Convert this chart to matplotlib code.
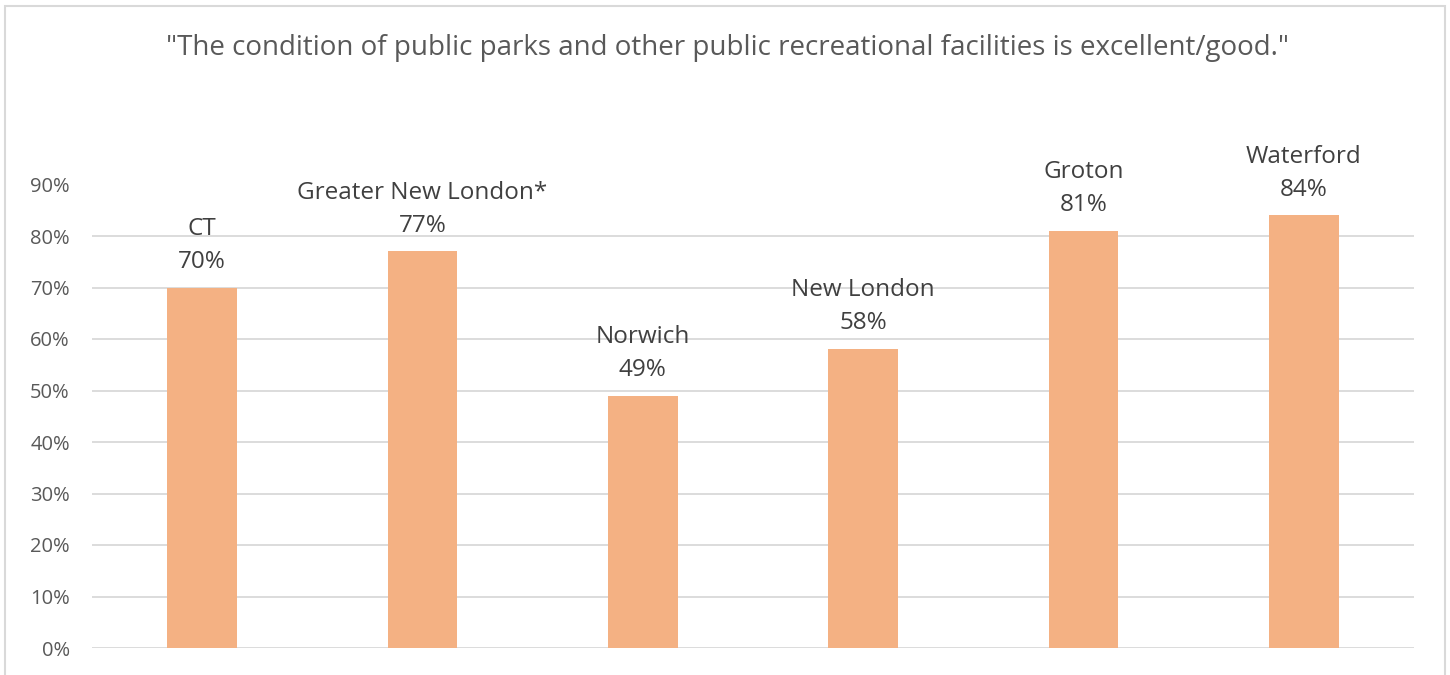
import matplotlib
matplotlib.use("Agg")
import matplotlib.pyplot as plt
from matplotlib.patches import Rectangle
from matplotlib.ticker import PercentFormatter, MultipleLocator

categories = ["CT", "Greater New London*", "Norwich", "New London", "Groton", "Waterford"]
values = [70, 77, 49, 58, 81, 84]
title = "\"The condition of public parks and other public recreational facilities is excellent/good.\""

W, H = 1450, 675
plt.rcParams["font.family"] = ["Open Sans", "DejaVu Sans"]
text_color = "#595959"
label_color = "#404040"
bar_color = "#F4B183"
grid_color = "#D9D9D9"

fig = plt.figure(figsize=(W / 100, H / 100), dpi=100)
fig.patch.set_facecolor("white")

# light frame around the chart area
fig.patches.append(Rectangle((5 / W, -0.05), 1440 / W, 1.05 - 6 / H,
                             transform=fig.transFigure, fill=False,
                             edgecolor=grid_color, linewidth=1.5))

ax = fig.add_axes([92 / W, 27 / H, (1414 - 92) / W, (648 - 184.5) / H])
x = range(len(categories))
ax.bar(x, values, width=0.315, color=bar_color, zorder=2)

ax.set_xlim(-0.5, len(categories) - 0.5)
ax.set_ylim(0, 90)
ax.yaxis.set_major_locator(MultipleLocator(10))
ax.yaxis.set_major_formatter(PercentFormatter(decimals=0))
ax.grid(axis="y", color=grid_color, linewidth=1.3, zorder=0)
ax.set_axisbelow(True)
for s in ax.spines.values():
    s.set_visible(False)
ax.set_xticks([])
ax.tick_params(axis="y", length=0, pad=16, labelsize=14.5, labelcolor=text_color)

for xi, (cat, v) in enumerate(zip(categories, values)):
    ax.annotate(f"{cat}\n{v}%", (xi, v), xytext=(0, 10), textcoords="offset points",
                ha="center", va="bottom", fontsize=17.5, color=label_color,
                linespacing=1.5, annotation_clip=False)

fig.text(727 / W, 1 - 48 / H, title, ha="center", va="center",
         fontsize=20, color=text_color)

fig.savefig("out.png", dpi=100)
